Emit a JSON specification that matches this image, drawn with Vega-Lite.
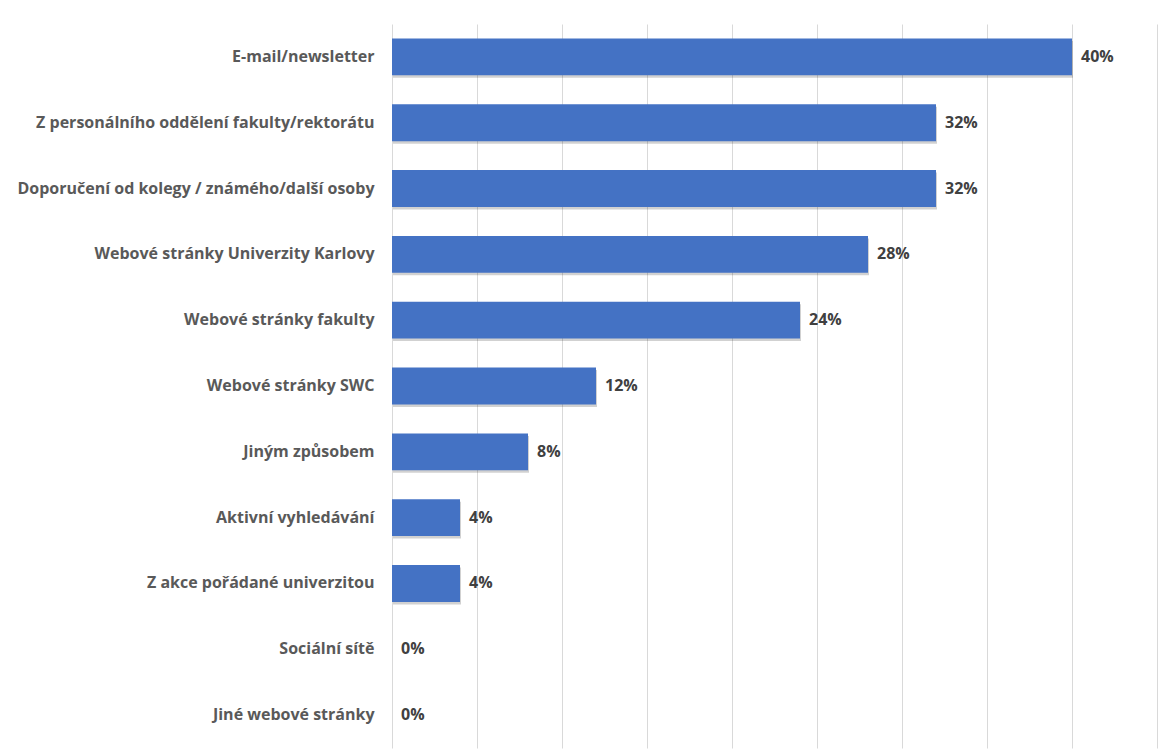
{
  "$schema": "https://vega.github.io/schema/vega-lite/v6.json",
  "width": 765,
  "height": 724,
  "autosize": {"type": "none"},
  "padding": {"left": 392, "top": 24, "right": 5, "bottom": 7},
  "background": "white",
  "config": {"view": {"stroke": null}, "font": "Open Sans"},
  "data": {"values": [
    {"kat": "E-mail/newsletter", "v": 0.40},
    {"kat": "Z personálního oddělení fakulty/rektorátu", "v": 0.32},
    {"kat": "Doporučení od kolegy / známého/další osoby", "v": 0.32},
    {"kat": "Webové stránky Univerzity Karlovy", "v": 0.28},
    {"kat": "Webové stránky fakulty ", "v": 0.24},
    {"kat": "Webové stránky SWC", "v": 0.12},
    {"kat": "Jiným způsobem", "v": 0.08},
    {"kat": "Aktivní vyhledávání ", "v": 0.04},
    {"kat": "Z akce pořádané univerzitou", "v": 0.04},
    {"kat": "Sociální sítě ", "v": 0.0},
    {"kat": "Jiné webové stránky", "v": 0.0}
  ]},
  "encoding": {
    "y": {"field": "kat", "type": "nominal", "sort": null,
      "scale": {"paddingInner": 0.44, "paddingOuter": 0.22},
      "axis": {"title": null, "domain": false, "ticks": false, "labelPadding": 18,
        "labelFontSize": 16, "labelFontWeight": "bold", "labelColor": "#595959", "labelLimit": 400}},
    "x": {"field": "v", "type": "quantitative",
      "scale": {"domain": [0, 0.45], "nice": false},
      "axis": {"title": null, "labels": false, "ticks": false, "domain": false,
        "values": [0, 0.05, 0.1, 0.15, 0.2, 0.25, 0.3, 0.35, 0.4, 0.45],
        "grid": true, "gridColor": "#d9d9d9", "gridWidth": 1}}
  },
  "layer": [
    {"mark": {"type": "bar", "color": "#000000", "opacity": 0.18, "xOffset": 1, "yOffset": 2.5}},
    {"mark": {"type": "bar", "color": "#4472C4"}},
    {"mark": {"type": "text", "align": "left", "dx": 9, "fontSize": 16, "fontWeight": "bold", "color": "#404040", "baseline": "middle"},
      "encoding": {"text": {"field": "v", "type": "quantitative", "format": ".0%"}}}
  ]
}
